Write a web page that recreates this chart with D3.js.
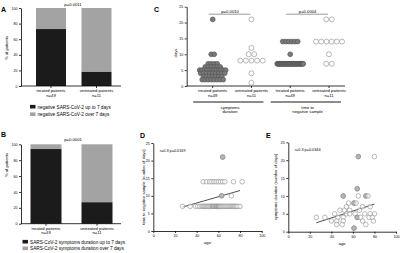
<!DOCTYPE html>
<html>
<head>
<meta charset="utf-8">
<script src="https://cdn.jsdelivr.net/npm/d3@7"></script>
<style>
  body { margin: 0; background: #fff; }
  svg { display: block; font-family: "Liberation Sans", Arial, sans-serif; }
</style>
</head>
<body>
<script>
const width = 400, height = 253;

// ---- A / B : percentage of patients
const groups = ["treated patients", "untreated patients"];
const groupN = ["n=49", "n=11"];
const negUpTo7 = [73, 18];     // negative SARS-CoV-2 up to 7 days (%)
const symUpTo7 = [94, 27];     // symptoms duration up to 7 days (%)
const pctTicks = [0, 20, 40, 60, 80, 100];

// ---- C : days per patient
const symTreated = [21, 10, 10, 7, 7, 7, 7, 6, 6, 6, 6, 6, 6,
  5, 5, 5, 5, 5, 5, 5, 5, 5, 5, 5, 5, 4, 4, 4, 4, 4, 4, 4, 4, 4,
  3, 3, 3, 3, 3, 3, 3, 2, 2, 2, 2, 2, 2, 2, 2];
const symUntreated = [21, 12, 10, 10, 8, 8, 8, 8, 8, 4, 1];
const negTreated = [14, 14, 14, 14, 14, 14, 10,
  7, 7, 7, 7, 7, 7, 7, 7, 7, 7, 7, 7, 7, 7, 7, 7, 7, 7, 7, 7, 7,
  7, 7, 7, 7, 7, 7, 7, 7, 7, 7, 7, 7, 7, 7, 7, 7, 7];
const negUntreated = [21, 21, 14, 14, 14, 14, 14, 14, 10, 7, 7];
const dayTicks = [0, 5, 10, 15, 20, 25];

// ---- D : time to negative sample vs age  [age, days]
const dPoints = [
  [27, 7], [34, 7], [39, 7], [41, 7], [43, 7], [45, 7], [46, 7], [47, 7], [48, 7], [49, 7],
  [50, 7], [51, 7], [52, 7], [53, 7], [54, 7], [55, 7], [55, 7], [56, 7], [57, 7], [58, 7],
  [58, 7], [59, 7], [60, 7], [60, 7], [61, 7], [62, 7], [63, 7], [64, 7], [65, 7], [66, 7],
  [67, 7], [68, 7], [69, 7], [70, 7], [71, 7], [72, 7], [73, 7], [74, 7], [75, 7], [76, 7],
  [77, 7], [78, 7], [80, 7],
  [46, 14], [49, 14], [52, 14], [54, 14], [56, 14], [58, 14], [60, 14], [62, 14], [64, 14],
  [66, 14], [74, 14], [82, 14],
  [63, 10], [63, 10], [72, 10],
  [64, 21], [64, 21]
];
const dFit = [[27, 6.8], [80, 11.5]];

// ---- E : symptoms duration vs age  [age, days]
const ePoints = [
  [65, 21], [65, 21], [80, 21],
  [64, 12], [64, 12],
  [51, 10], [51, 10], [65, 10], [72, 10], [72, 10], [74, 10],
  [56, 8], [61, 8], [61, 8], [63, 8],
  [54, 7], [69, 7], [76, 7],
  [48, 6], [52, 6], [57, 6], [66, 6],
  [43, 5], [54, 5], [57, 5], [62, 5], [71, 5], [76, 5], [80, 5],
  [26, 4], [34, 4], [46, 4], [51, 4], [64, 4], [64, 4], [67, 4], [75, 4], [78, 4],
  [40, 3], [45, 3], [51, 3], [69, 3], [79, 3],
  [45, 2], [50, 2], [72, 2],
  [61, 1], [61, 1]
];
const eFit = [[26, 2.5], [80, 7.7]];
const ageTicks = [0, 20, 40, 60, 80, 100];

const black = "#1b1b1b", grey = "#a3a3a3";
const tickFs = 3.6, labFs = 4.2;

const svg = d3.select("body").append("svg")
    .attr("width", width)
    .attr("height", height);
svg.append("rect").attr("width", width).attr("height", height).attr("fill", "#fff");

function styleAxis(g) {
  g.attr("font-size", tickFs).attr("font-family", null);
  g.selectAll("path, line").attr("stroke", "#000").attr("stroke-width", 0.8);
  g.selectAll("text").attr("fill", "#000");
}

function letter(t, x, y) {
  svg.append("text").attr("x", x).attr("y", y)
    .attr("font-size", 7).attr("font-weight", "bold").text(t);
}

function vLabel(t, x, y, fs) {
  svg.append("text").attr("transform", `translate(${x},${y}) rotate(-90)`)
    .attr("text-anchor", "middle").attr("font-size", fs || labFs).text(t);
}

// ---------- bar panels ----------
function barPanel(o) {
  const y = d3.scaleLinear().domain([0, 100]).range([o.yBottom, o.yTop]);
  const x = d3.scalePoint().domain(groups).range(o.xRange);
  const g = svg.append("g");

  g.selectAll("rect.top").data(groups).join("rect").attr("class", "top")
    .attr("x", d => x(d) - o.barW / 2).attr("width", o.barW)
    .attr("y", y(100))
    .attr("height", (d, i) => y(o.values[i]) - y(100))
    .attr("fill", grey);
  g.selectAll("rect.low").data(groups).join("rect").attr("class", "low")
    .attr("x", d => x(d) - o.barW / 2).attr("width", o.barW)
    .attr("y", (d, i) => y(o.values[i]))
    .attr("height", (d, i) => y(0) - y(o.values[i]))
    .attr("fill", black);

  g.append("g").attr("transform", `translate(${o.axisX},0)`)
    .call(d3.axisLeft(y).tickValues(pctTicks).tickSize(2).tickSizeOuter(0).tickPadding(1.5))
    .call(styleAxis);

  g.append("line").attr("x1", o.axisX).attr("x2", o.axisX + 100)
    .attr("y1", y(0)).attr("y2", y(0)).attr("stroke", "#000").attr("stroke-width", 0.8);
  g.selectAll("line.xt").data(groups).join("line").attr("class", "xt")
    .attr("x1", d => x(d)).attr("x2", d => x(d))
    .attr("y1", y(0)).attr("y2", y(0) + 2).attr("stroke", "#000").attr("stroke-width", 0.8);

  g.selectAll("text.gl").data(groups).join("text").attr("class", "gl")
    .attr("x", d => x(d)).attr("y", y(0) + 6.3)
    .attr("text-anchor", "middle").attr("font-size", labFs).text(d => d);
  g.selectAll("text.gn").data(groupN).join("text").attr("class", "gn")
    .attr("x", (d, i) => x(groups[i])).attr("y", y(0) + 10.5)
    .attr("text-anchor", "middle").attr("font-size", labFs).text(d => d);

  g.append("text").attr("x", o.axisX + 52).attr("y", o.pY)
    .attr("text-anchor", "middle").attr("font-size", labFs).text(o.p);

  vLabel("% of patients", 8, o.labelY);

  const lg = g.selectAll("g.lg").data(o.legend).join("g").attr("class", "lg")
    .attr("transform", (d, i) => `translate(${o.legX},${o.legY + i * o.legStep})`);
  lg.append("rect").attr("x", 0).attr("y", -3.6).attr("width", 5.5).attr("height", 3.6)
    .attr("fill", (d, i) => i === 0 ? black : grey);
  lg.append("text").attr("x", 7.5).attr("y", 0).attr("font-size", 4.7).text(d => d);
}

letter("A", 1, 12);
barPanel({
  values: negUpTo7, yBottom: 86, yTop: 8, axisX: 21, xRange: [51, 96.5], barW: 30,
  p: "p=0.0011", pY: 5.5, labelY: 48,
  legend: ["negative SARS-CoV-2 up to 7 days", "negative SARS-CoV-2 over 7 days"],
  legX: 30, legY: 108.5, legStep: 7.5
});

letter("B", 1, 137);
barPanel({
  values: symUpTo7, yBottom: 223.7, yTop: 144.3, axisX: 21, xRange: [46, 97], barW: 31,
  p: "p=0.0001", pY: 140.5, labelY: 165,
  legend: ["SARS-CoV-2 symptoms duration up to 7 days", "SARS-CoV-2 symptoms duration over 7 days"],
  legX: 22.5, legY: 243.5, legStep: 6.6
});

// ---------- C : dot plot ----------
letter("C", 154, 11.5);
const cKeys = ["st", "su", "nt", "nu"];
const cSets = [
  { key: "st", vals: symTreated, filled: true, lab: groups[0], n: groupN[0] },
  { key: "su", vals: symUntreated, filled: false, lab: groups[1], n: groupN[1] },
  { key: "nt", vals: negTreated, filled: true, lab: groups[0], n: groupN[0] },
  { key: "nu", vals: negUntreated, filled: false, lab: groups[1], n: groupN[1] }
];
const cx = d3.scalePoint().domain(cKeys).range([212.7, 329]);
const cy = d3.scaleLinear().domain([0, 25]).range([86, 6.7]);

svg.append("g").attr("transform", "translate(186.7,0)")
  .call(d3.axisLeft(cy).tickValues(dayTicks).tickSize(2).tickSizeOuter(0).tickPadding(1.5))
  .call(styleAxis);
svg.append("line").attr("x1", 186.7).attr("x2", 345).attr("y1", cy(0)).attr("y2", cy(0))
  .attr("stroke", "#000").attr("stroke-width", 0.8);
vLabel("days", 176.5, 53);

cSets.forEach(s => {
  const rows = d3.group(s.vals, v => v);
  const pts = [];
  rows.forEach((arr, v) => {
    const k = arr.length;
    const step = k > 1 ? Math.min(s.filled ? 3 : 5.6, 26 / (k - 1)) : 0;
    arr.forEach((_, i) => pts.push({ v, dx: (i - (k - 1) / 2) * step }));
  });
  svg.append("g").selectAll("circle").data(pts).join("circle")
    .attr("cx", d => cx(s.key) + d.dx).attr("cy", d => cy(d.v))
    .attr("r", s.filled ? 2.4 : 2.5)
    .attr("fill", s.filled ? "#7a7a7a" : "#fff")
    .attr("stroke", s.filled ? "#555" : "#999")
    .attr("stroke-width", 0.7);

  svg.append("line").attr("x1", cx(s.key)).attr("x2", cx(s.key))
    .attr("y1", cy(0)).attr("y2", cy(0) + 2).attr("stroke", "#000").attr("stroke-width", 0.8);
  svg.append("text").attr("x", cx(s.key)).attr("y", 92.3)
    .attr("text-anchor", "middle").attr("font-size", labFs).text(s.lab);
  svg.append("text").attr("x", cx(s.key)).attr("y", 96.6)
    .attr("text-anchor", "middle").attr("font-size", labFs).text(s.n);
});

const cBrackets = [
  { a: "st", b: "su", p: "p=0.0010", lines: ["symptoms", "duration"] },
  { a: "nt", b: "nu", p: "p=0.0004", lines: ["time to", "negative sample"] }
];
cBrackets.forEach(b => {
  const x0 = cx(b.a), x1 = cx(b.b), mid = (x0 + x1) / 2;
  svg.append("line").attr("x1", x0 - 4).attr("x2", x1 - 1).attr("y1", 14.2).attr("y2", 14.2)
    .attr("stroke", "#555").attr("stroke-width", 0.6);
  svg.append("text").attr("x", mid - 2).attr("y", 12.6)
    .attr("text-anchor", "middle").attr("font-size", labFs).text(b.p);
  svg.append("line").attr("x1", x0 - 19.5).attr("x2", x1 + 12).attr("y1", 102).attr("y2", 102)
    .attr("stroke", "#000").attr("stroke-width", 0.9);
  b.lines.forEach((t, i) => svg.append("text").attr("x", mid - 2).attr("y", 109 + i * 4.4)
    .attr("text-anchor", "middle").attr("font-size", labFs).text(t));
});

// ---------- D / E : scatter ----------
function scatterPanel(o) {
  const x = d3.scaleLinear().domain([0, 100]).range([o.x0, o.x1]);
  const y = d3.scaleLinear().domain([0, 25]).range([o.y0, o.y1]);
  const g = svg.append("g");

  g.append("g").attr("transform", `translate(${o.x0},0)`)
    .call(d3.axisLeft(y).tickValues(dayTicks).tickSize(2).tickSizeOuter(0).tickPadding(1.5))
    .call(styleAxis);
  g.append("g").attr("transform", `translate(0,${o.y0})`)
    .call(d3.axisBottom(x).tickValues(ageTicks).tickSize(2).tickSizeOuter(0).tickPadding(1.5))
    .call(styleAxis);

  g.append("line")
    .attr("x1", x(o.fit[0][0])).attr("y1", y(o.fit[0][1]))
    .attr("x2", x(o.fit[1][0])).attr("y2", y(o.fit[1][1]))
    .attr("stroke", "#222").attr("stroke-width", 0.8);

  const counts = d3.rollup(o.points, v => v.length, d => d[0] + "|" + d[1]);
  g.append("g").selectAll("circle").data(o.points).join("circle")
    .attr("cx", d => x(d[0])).attr("cy", d => y(d[1])).attr("r", 2.3)
    .attr("fill", d => counts.get(d[0] + "|" + d[1]) > 1 ? "#b5b5b5" : "#fff")
    .attr("fill-opacity", d => counts.get(d[0] + "|" + d[1]) > 1 ? 1 : 0.6)
    .attr("stroke", "#8c8c8c").attr("stroke-width", 0.6);

  g.append("text").attr("x", o.x0 + 6.5).attr("y", o.y1 + 8.5)
    .attr("font-size", 3.8).text(o.note);
  g.append("text").attr("x", x(50)).attr("y", o.y0 + 13)
    .attr("text-anchor", "middle").attr("font-size", labFs).text("age");
  vLabel(o.ylab, o.labX, (o.y0 + o.y1) / 2, 4.1);
}

letter("D", 140, 137.5);
scatterPanel({
  points: dPoints, fit: dFit, x0: 153.3, x1: 261.7, y0: 231, y1: 143,
  note: "r=0.3 p=0.0169", ylab: "time to negative sample (number of days)", labX: 144.5
});

letter("E", 266, 137.5);
scatterPanel({
  points: ePoints, fit: eFit, x0: 288.3, x1: 396, y0: 231.7, y1: 142.3,
  note: "r=0.3 p=0.0344", ylab: "symptoms duration (number of days)", labX: 276.5
});
</script>
</body>
</html>
